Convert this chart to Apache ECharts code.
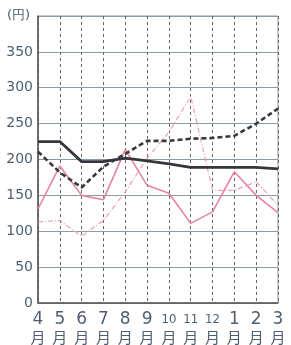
<!DOCTYPE html>
<html lang="ja">
<head>
    <meta charset="UTF-8">
    <title>月別価格</title>
    <script src="https://cdn.jsdelivr.net/npm/echarts@6/dist/echarts.min.js"></script>
    <style>body{margin:0;background:#fff;}</style>
</head>
<body>
    <div id="chart" style="width: 291px; height: 345px;"></div>

    <script>
        var months = ['4', '5', '6', '7', '8', '9', '10', '11', '12', '1', '2', '3'];
        var yTicks = [0, 50, 100, 150, 200, 250, 300, 350];
        // 4つの系列 (円)
        var solidDark = [225, 225, 197, 197, 202, 198, 194, 189, 189, 189, 189, 187];
        var dashedDark = [211, 182, 161, 190, 208, 226, 226, 229, 230, 233, 250, 271];
        var pinkSolid = [131, 191, 150, 144, 214, 164, 153, 111, 127, 183, 150, 126];
        var pinkDotted = [113, 115, 93, 115, 155, 202, 238, 288, 157, 157, 169, 136];

        var chart = echarts.init(document.getElementById('chart'));
        var labelColor = '#4d5f70';
        var gridColor = '#8b9ba3';

        chart.setOption({
            animation: false,
            grid: {
                left: 38, right: 13, top: 16, bottom: 40,
                show: true, borderColor: gridColor, borderWidth: 1
            },
            graphic: [{
                type: 'text', left: 7, top: 9,
                style: { text: '(円)', font: '13px "DejaVu Sans"', fill: labelColor }
            }],
            xAxis: {
                type: 'category',
                data: months,
                boundaryGap: false,
                axisLine: { lineStyle: { color: '#555', width: 1.5 } },
                axisTick: { show: false },
                splitLine: { show: true, lineStyle: { color: '#666', type: [3, 3], width: 1 } },
                axisLabel: {
                    interval: 0,
                    margin: 8,
                    formatter: function (v) {
                        return (v.length > 1 ? '{s|' + v + '}' : '{n|' + v + '}') + '\n{m|月}';
                    },
                    rich: {
                        n: { fontSize: 17, color: labelColor, fontFamily: 'DejaVu Sans', lineHeight: 18 },
                        s: { fontSize: 13, color: labelColor, fontFamily: 'Liberation Sans Narrow, DejaVu Sans Condensed, sans-serif', lineHeight: 18 },
                        m: { fontSize: 15, color: labelColor, fontFamily: 'Noto Sans CJK JP', lineHeight: 17 }
                    }
                }
            },
            yAxis: {
                type: 'value',
                min: 0, max: 400, interval: 50,
                axisLine: { show: true, lineStyle: { color: '#555', width: 1.5 } },
                axisTick: { show: false },
                splitLine: { lineStyle: { color: gridColor, width: 1.2 } },
                axisLabel: {
                    margin: 5,
                    color: labelColor,
                    fontSize: 14,
                    fontFamily: 'DejaVu Sans',
                    formatter: function (v) { return yTicks.indexOf(v) >= 0 ? String(v) : ''; }
                }
            },
            series: [
                {
                    type: 'line', data: pinkDotted, symbol: 'none', z: 2,
                    lineStyle: { color: '#e8a0b4', width: 1.2, type: [5, 2, 1, 2] }
                },
                {
                    type: 'line', data: pinkSolid, symbol: 'none', z: 3,
                    lineStyle: { color: '#e8829e', width: 1.6 }
                },
                {
                    type: 'line', data: dashedDark, symbol: 'none', z: 4,
                    lineStyle: { color: '#353a40', width: 2.6, type: [5, 3] }
                },
                {
                    type: 'line', data: solidDark, symbol: 'none', z: 5,
                    lineStyle: { color: '#34383d', width: 2.8 }
                }
            ]
        });
    </script>
</body>
</html>
